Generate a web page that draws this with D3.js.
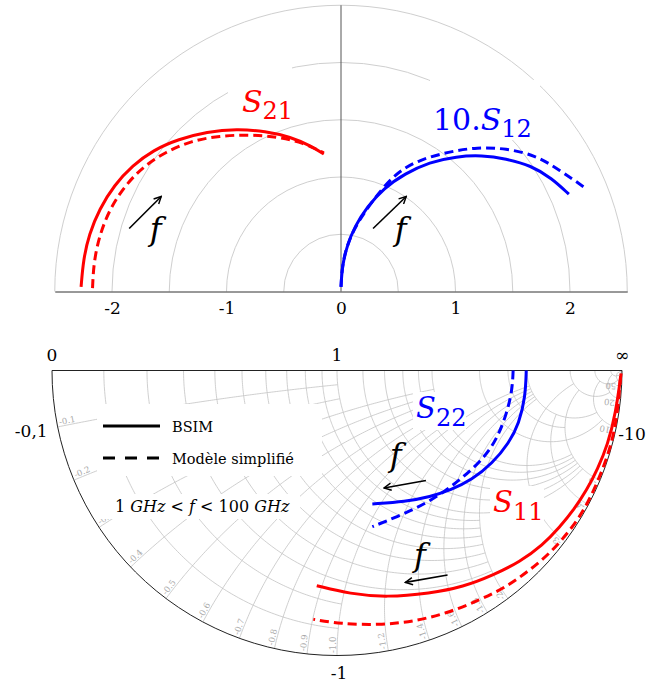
<!DOCTYPE html>
<html>
<head>
<meta charset="utf-8">
<script src="https://cdn.jsdelivr.net/npm/d3@7"></script>
<style>
  body { margin: 0; background: #fff; }
  text { font-family: "DejaVu Serif", serif; }
</style>
</head>
<body>
<div id="plot"></div>
<script>
    // ---- top polar plot (real, imag) ----
    const polarRings = [0.5, 1, 1.5, 2, 2.5];
    const polarTicks = [-2, -1, 0, 1, 2];

    const s21Bsim = [[-2.27, 0.04], [-2.25, 0.28], [-2.20, 0.50], [-2.11, 0.72], [-1.98, 0.93], [-1.82, 1.10],
      [-1.64, 1.235], [-1.42, 1.33], [-1.17, 1.395], [-0.91, 1.42], [-0.66, 1.40], [-0.44, 1.35], [-0.26, 1.27], [-0.15, 1.20]];
    const s21Simple = [[-2.17, 0.03], [-2.16, 0.25], [-2.11, 0.49], [-2.02, 0.72], [-1.89, 0.92], [-1.73, 1.09],
      [-1.53, 1.22], [-1.31, 1.315], [-1.06, 1.36], [-0.80, 1.37], [-0.55, 1.35], [-0.33, 1.30], [-0.15, 1.21]];
    const s12Bsim = [[0.00, 0.04], [0.01, 0.22], [0.05, 0.39], [0.12, 0.57], [0.23, 0.74], [0.37, 0.90],
      [0.56, 1.03], [0.77, 1.13], [1.01, 1.18], [1.23, 1.19], [1.44, 1.16], [1.66, 1.10], [1.84, 0.99], [1.99, 0.85]];
    const s12Simple = [[0.00, 0.04], [0.01, 0.22], [0.05, 0.40], [0.13, 0.58], [0.28, 0.80], [0.47, 1.03],
      [0.68, 1.15], [0.94, 1.22], [1.19, 1.26], [1.44, 1.25], [1.70, 1.19], [1.91, 1.06], [2.14, 0.90]];

    // ---- bottom Smith chart (reflection coefficient, real, imag) ----
    const smithValues = [0.1, 0.2, 0.3, 0.4, 0.5, 0.6, 0.7, 0.8, 0.9, 1.0, 1.2, 1.4, 1.6, 1.8, 2, 3, 4, 5, 10, 20, 50];
    const smithEnds   = [1, 1, 2, 2, 2, 2, 2, 2, 2, 5, 5, 5, 5, 5, 5, 10, 5, 10, 20, 50, Infinity];
    const smithTopRes = [0, 1, Infinity];
    const smithTopText = ["0", "1", "\u221e"];
    const smithSideReact = [0.1, 10, 1];
    const smithSideText = ["-0,1", "-10", "-1"];

    const s22Bsim = [[0.664, 0.0], [0.661, -0.092], [0.639, -0.185], [0.603, -0.255], [0.545, -0.326],
      [0.473, -0.384], [0.400, -0.419], [0.327, -0.443], [0.240, -0.460], [0.124, -0.468]];
    const s22Simple = [[0.618, 0.0], [0.615, -0.068], [0.596, -0.150], [0.560, -0.244], [0.509, -0.314],
      [0.444, -0.373], [0.385, -0.419], [0.313, -0.466], [0.226, -0.507], [0.124, -0.548]];
    const s11Bsim = [[0.997, -0.01], [0.978, -0.15], [0.950, -0.26], [0.915, -0.345], [0.876, -0.42], [0.832, -0.487],
      [0.781, -0.55], [0.722, -0.612], [0.642, -0.671], [0.548, -0.718], [0.443, -0.759], [0.326, -0.782],
      [0.174, -0.796], [0.046, -0.784], [-0.071, -0.755]];
    const s11Simple = [[0.995, -0.02], [0.984, -0.16], [0.960, -0.27], [0.927, -0.36], [0.89, -0.445], [0.852, -0.513],
      [0.806, -0.575], [0.747, -0.641], [0.677, -0.700], [0.595, -0.759], [0.502, -0.805], [0.385, -0.852],
      [0.268, -0.881], [0.151, -0.893], [0.010, -0.889], [-0.083, -0.873]];

    const RED = "#ff0000", BLUE = "#0000ff";

    const svg = d3.select("div#plot")
      .append("svg")
        .attr("width", 648)
        .attr("height", 682);

    svg.append("defs").append("marker")
      .attr("id", "arr")
      .attr("viewBox", "0 0 10 10")
      .attr("refX", 9).attr("refY", 5)
      .attr("markerWidth", 9).attr("markerHeight", 9)
      .attr("markerUnits", "userSpaceOnUse")
      .attr("orient", "auto")
      .append("path")
        .attr("d", "M1,1 L9,5 L1,9")
        .attr("fill", "none")
        .attr("stroke", "#000")
        .attr("stroke-width", 1.6);

    // ================= polar =================
    const px = d3.scaleLinear().domain([-2.5, 2.5]).range([54.75, 627.25]);
    const py = d3.scaleLinear().domain([0, 2.5]).range([291.5, 5.25]);
    const pr = v => px(v) - px(0);

    svg.append("g").selectAll("path")
      .data(polarRings)
      .join("path")
        .attr("d", r => {
          const p = d3.path();
          p.arc(px(0), py(0), pr(r), Math.PI, 2 * Math.PI);
          return p.toString();
        })
        .attr("fill", "none")
        .attr("stroke", "#cfcfcf")
        .attr("stroke-width", 1);

    svg.append("line")
      .attr("x1", px(0)).attr("x2", px(0))
      .attr("y1", py(0)).attr("y2", py(2.5))
      .attr("stroke", "#555")
      .attr("stroke-width", 1);

    // white boxes behind the polar labels
    svg.append("rect").attr("x", 228).attr("y", 60).attr("width", 64).attr("height", 60).attr("fill", "#fff");
    svg.append("rect").attr("x", 430).attr("y", 80).attr("width", 110).attr("height", 60).attr("fill", "#fff");

    const xAxis = d3.axisBottom(px)
      .tickValues(polarTicks)
      .tickSize(0)
      .tickSizeOuter(0)
      .tickPadding(10)
      .tickFormat(d => String(d));

    const axG = svg.append("g")
      .attr("transform", `translate(0,${py(0)})`)
      .call(xAxis);
    axG.select(".domain").attr("stroke", "#333");
    axG.selectAll("text")
      .attr("font-family", "DejaVu Serif")
      .attr("font-size", 17)
      .attr("fill", "#000");

    const pline = d3.line().x(d => px(d[0])).y(d => py(d[1])).curve(d3.curveBasis);

    const polarSeries = [
      { data: s21Bsim, color: RED, dash: null },
      { data: s21Simple, color: RED, dash: "9,5" },
      { data: s12Bsim, color: BLUE, dash: null },
      { data: s12Simple, color: BLUE, dash: "9,5" }
    ];
    svg.append("g").selectAll("path")
      .data(polarSeries)
      .join("path")
        .attr("d", s => pline(s.data))
        .attr("fill", "none")
        .attr("stroke", s => s.color)
        .attr("stroke-width", 3)
        .attr("stroke-dasharray", s => s.dash);

    // arrows + f (data units)
    const polarArrows = [[[-1.85, 0.55], [-1.57, 0.83]], [[0.28, 0.55], [0.57, 0.83]]];
    svg.append("g").selectAll("line")
      .data(polarArrows)
      .join("line")
        .attr("x1", d => px(d[0][0])).attr("y1", d => py(d[0][1]))
        .attr("x2", d => px(d[1][0])).attr("y2", d => py(d[1][1]))
        .attr("stroke", "#000")
        .attr("stroke-width", 1.6)
        .attr("marker-end", "url(#arr)");

    svg.append("g").selectAll("text")
      .data([[-1.67, 0.45], [0.47, 0.45]])
      .join("text")
        .attr("x", d => px(d[0]))
        .attr("y", d => py(d[1]))
        .attr("font-style", "italic")
        .attr("font-size", 32)
        .text("f");

    const s21Label = svg.append("text")
      .attr("x", 242).attr("y", 112)
      .attr("fill", RED);
    s21Label.append("tspan").attr("font-style", "italic").attr("font-size", 30).text("S");
    s21Label.append("tspan").attr("font-size", 24).attr("dy", 6.5).text("21");

    const s12Label = svg.append("text")
      .attr("x", 433).attr("y", 130)
      .attr("fill", BLUE);
    s12Label.append("tspan").attr("font-size", 30).text("10.");
    s12Label.append("tspan").attr("font-style", "italic").attr("font-size", 30).text("S");
    s12Label.append("tspan").attr("font-size", 24).attr("dy", 7).text("12");

    // ================= Smith chart =================
    const gx = d3.scaleLinear().domain([-1, 1]).range([52, 622]);
    const gy = d3.scaleLinear().domain([-1, 0]).range([655.5, 370.5]);

    // z = r + jx  ->  gamma
    function gam(r, x) {
      if (!isFinite(r) || !isFinite(x)) return [1, 0];
      const den = (r + 1) * (r + 1) + x * x;
      return [(r * r - 1 + x * x) / den, (2 * x) / den];
    }
    const N = 140;
    const gline = d3.line().x(d => gx(d[0])).y(d => gy(d[1]));

    const gridPaths = [];
    smithValues.forEach((v, i) => {
      const tEnd = isFinite(smithEnds[i]) ? Math.atan(smithEnds[i]) : Math.PI / 2 - 1e-4;
      const res = [], rea = [];
      for (let k = 0; k <= N; k++) {
        const t = Math.tan(tEnd * k / N);
        res.push(gam(v, -t));
        rea.push(gam(t, -v));
      }
      gridPaths.push(res, rea);
    });

    svg.append("g").selectAll("path")
      .data(gridPaths)
      .join("path")
        .attr("d", gline)
        .attr("fill", "none")
        .attr("stroke", "#c3c3c3")
        .attr("stroke-width", 0.8);

    // reactance labels along the rim
    const cx = gx(0), cy = gy(0);
    svg.append("g").selectAll("text")
      .data(smithValues)
      .join("text")
        .attr("transform", v => {
          const g = gam(0, -v);
          const X = gx(g[0]), Y = gy(g[1]);
          const ang = Math.atan2(cy - Y, cx - X);
          const x0 = X + 2.5 * Math.cos(ang), y0 = Y + 2.5 * Math.sin(ang);
          return `translate(${x0},${y0}) rotate(${ang * 180 / Math.PI})`;
        })
        .attr("dy", -1.5)
        .attr("font-family", "Liberation Sans")
        .attr("font-size", 8.5)
        .attr("fill", "#aaaaaa")
        .text(v => "-" + (v < 2 ? v.toFixed(1) : String(v)));

    // white boxes (legend, range note, labels)
    const boxes = [[97, 404, 225, 72], [100, 494, 200, 25], [413, 392, 53, 38], [490, 486, 54, 40]];
    svg.append("g").selectAll("rect")
      .data(boxes)
      .join("rect")
        .attr("x", d => d[0]).attr("y", d => d[1])
        .attr("width", d => d[2]).attr("height", d => d[3])
        .attr("fill", "#fff");

    // rim and real axis
    const rim = d3.path();
    rim.arc(cx, cy, gx(1) - cx, 0, Math.PI);
    svg.append("path")
      .attr("d", rim.toString())
      .attr("fill", "none")
      .attr("stroke", "#222")
      .attr("stroke-width", 1);
    svg.append("line")
      .attr("x1", gx(-1)).attr("x2", gx(1))
      .attr("y1", cy).attr("y2", cy)
      .attr("stroke", "#222")
      .attr("stroke-width", 1);

    const smithSeries = [
      { data: s22Bsim, color: BLUE, dash: null },
      { data: s22Simple, color: BLUE, dash: "9,5" },
      { data: s11Bsim, color: RED, dash: null },
      { data: s11Simple, color: RED, dash: "9,5" }
    ];
    const sline = d3.line().x(d => gx(d[0])).y(d => gy(d[1])).curve(d3.curveBasis);
    svg.append("g").selectAll("path")
      .data(smithSeries)
      .join("path")
        .attr("d", s => sline(s.data))
        .attr("fill", "none")
        .attr("stroke", s => s.color)
        .attr("stroke-width", 3)
        .attr("stroke-dasharray", s => s.dash);

    // top labels: resistance 0, 1, inf
    svg.append("g").selectAll("text")
      .data(smithTopRes)
      .join("text")
        .attr("x", r => gx(gam(r, 0)[0]))
        .attr("y", 361)
        .attr("text-anchor", "middle")
        .attr("font-size", 17)
        .text((r, i) => smithTopText[i]);

    // side labels: reactance -0,1 / -10 / -1
    const sideAnchor = ["end", "start", "middle"];
    const sideDx = [-10, 2, 2];
    const sideDy = [10, 13, 23];
    svg.append("g").selectAll("text")
      .data(smithSideReact)
      .join("text")
        .attr("x", (v, i) => gx(gam(0, -v)[0]) + sideDx[i])
        .attr("y", (v, i) => gy(gam(0, -v)[1]) + sideDy[i])
        .attr("text-anchor", (v, i) => sideAnchor[i])
        .attr("font-size", 17)
        .text((v, i) => smithSideText[i]);

    // arrows + f in the Smith chart (gamma units)
    const smithArrows = [[[0.312, -0.386], [0.165, -0.412]], [[0.388, -0.7175], [0.240, -0.7435]]];
    svg.append("g").selectAll("line")
      .data(smithArrows)
      .join("line")
        .attr("x1", d => gx(d[0][0])).attr("y1", d => gy(d[0][1]))
        .attr("x2", d => gx(d[1][0])).attr("y2", d => gy(d[1][1]))
        .attr("stroke", "#000")
        .attr("stroke-width", 1.6)
        .attr("marker-end", "url(#arr)");

    svg.append("g").selectAll("text")
      .data([[0.185, -0.335], [0.27, -0.686]])
      .join("text")
        .attr("x", d => gx(d[0]))
        .attr("y", d => gy(d[1]))
        .attr("font-style", "italic")
        .attr("font-size", 32)
        .text("f");

    const s22Label = svg.append("text").attr("x", 416).attr("y", 418).attr("fill", BLUE);
    s22Label.append("tspan").attr("font-style", "italic").attr("font-size", 29).text("S");
    s22Label.append("tspan").attr("font-size", 24).attr("dy", 8).text("22");

    const s11Label = svg.append("text").attr("x", 493).attr("y", 512).attr("fill", RED);
    s11Label.append("tspan").attr("font-style", "italic").attr("font-size", 29).text("S");
    s11Label.append("tspan").attr("font-size", 24).attr("dy", 8).text("11");

    // legend
    const legend = svg.append("g");
    legend.append("line")
      .attr("x1", 103).attr("x2", 160).attr("y1", 426).attr("y2", 426)
      .attr("stroke", "#000").attr("stroke-width", 3);
    legend.append("text")
      .attr("x", 172).attr("y", 432)
      .attr("font-size", 14.5)
      .text("BSIM");
    legend.append("line")
      .attr("x1", 103).attr("x2", 160).attr("y1", 458).attr("y2", 458)
      .attr("stroke", "#000").attr("stroke-width", 3)
      .attr("stroke-dasharray", "12,10");
    legend.append("text")
      .attr("x", 172).attr("y", 464)
      .attr("font-size", 14.5)
      .text("Mod\u00e8le simplifi\u00e9");

    const freq = svg.append("text")
      .attr("x", 115).attr("y", 512)
      .attr("font-size", 16);
    freq.append("tspan").text("1 ");
    freq.append("tspan").attr("font-style", "italic").text("GHz");
    freq.append("tspan").text(" < ");
    freq.append("tspan").attr("font-style", "italic").text("f");
    freq.append("tspan").text(" < 100 ");
    freq.append("tspan").attr("font-style", "italic").text("GHz");
</script>
</body>
</html>
